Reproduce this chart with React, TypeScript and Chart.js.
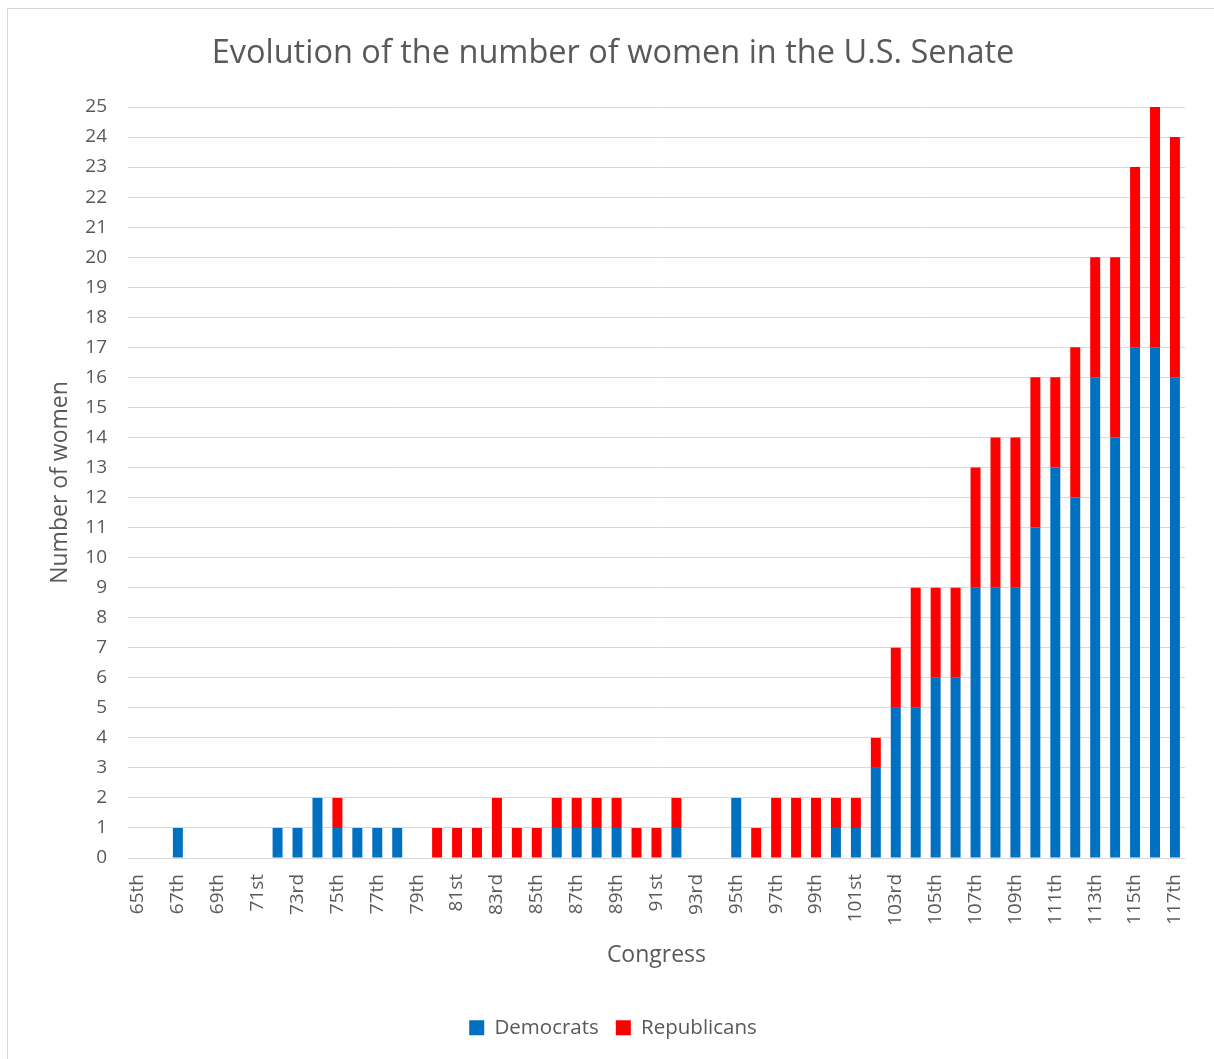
import React, { useEffect, useRef } from "react";
import { Chart, registerables } from "chart.js";

Chart.register(...registerables);

const congresses = [
  "65th", "66th", "67th", "68th", "69th", "70th", "71st", "72nd", "73rd", "74th",
  "75th", "76th", "77th", "78th", "79th", "80th", "81st", "82nd", "83rd", "84th",
  "85th", "86th", "87th", "88th", "89th", "90th", "91st", "92nd", "93rd", "94th",
  "95th", "96th", "97th", "98th", "99th", "100th", "101st", "102nd", "103rd", "104th",
  "105th", "106th", "107th", "108th", "109th", "110th", "111th", "112th", "113th", "114th",
  "115th", "116th", "117th",
];

const democrats = [
  0, 0, 1, 0, 0, 0, 0, 1, 1, 2,
  1, 1, 1, 1, 0, 0, 0, 0, 0, 0,
  0, 1, 1, 1, 1, 0, 0, 1, 0, 0,
  2, 0, 0, 0, 0, 1, 1, 3, 5, 5,
  6, 6, 9, 9, 9, 11, 13, 12, 16, 14,
  17, 17, 16,
];

const republicans = [
  0, 0, 0, 0, 0, 0, 0, 0, 0, 0,
  1, 0, 0, 0, 0, 1, 1, 1, 2, 1,
  1, 1, 1, 1, 1, 1, 1, 1, 0, 0,
  0, 1, 2, 2, 2, 1, 1, 1, 2, 4,
  3, 3, 4, 5, 5, 5, 3, 5, 4, 6,
  6, 8, 8,
];

const seriesNames = ["Democrats", "Republicans"];
const titleText = "Evolution of the number of women in the U.S. Senate";
const yAxisTitle = "Number of women";
const xAxisTitle = "Congress";

const FONT = "'Open Sans', 'Noto Sans', sans-serif";
const TEXT = "#595959";

export default function App() {
  const ref = useRef<HTMLCanvasElement | null>(null);

  useEffect(() => {
    if (!ref.current) return;
    const chart = new Chart(ref.current, {
      type: "bar",
      data: {
        labels: congresses,
        datasets: [
          {
            label: seriesNames[0],
            data: democrats,
            backgroundColor: "#0070C0",
            borderWidth: 0,
            barPercentage: 0.5,
            categoryPercentage: 1,
          },
          {
            label: seriesNames[1],
            data: republicans,
            backgroundColor: "#FF0000",
            borderWidth: 0,
            barPercentage: 0.5,
            categoryPercentage: 1,
          },
        ],
      },
      options: {
        animation: false,
        responsive: false,
        maintainAspectRatio: false,
        layout: { padding: { left: 30, right: 26, top: 0, bottom: 11 } },
        plugins: {
          title: {
            display: true,
            text: titleText,
            color: TEXT,
            font: { family: FONT, size: 32.5, weight: "normal" },
            padding: { top: 25, bottom: 34 },
          },
          legend: {
            position: "bottom",
            labels: {
              color: TEXT,
              font: { family: FONT, size: 20.5 },
              boxWidth: 15,
              boxHeight: 15,
              padding: 17,
            },
          },
          tooltip: { enabled: false },
        },
        scales: {
          x: {
            stacked: true,
            grid: { display: false, drawTicks: false },
            border: { display: true, color: "#d9d9d9", width: 1 },
            ticks: {
              autoSkip: false,
              minRotation: 90,
              maxRotation: 90,
              padding: 16,
              color: TEXT,
              font: { family: FONT, size: 19 },
              callback: (_v: any, i: number) => (i % 2 === 0 ? congresses[i] : ""),
            },
            title: {
              display: true,
              text: xAxisTitle,
              color: TEXT,
              font: { family: FONT, size: 23 },
              padding: { top: 4, bottom: 31 },
            },
            afterFit: (s: any) => {
              s.height = 142.5;
            },
          },
          y: {
            stacked: true,
            min: 0,
            max: 25,
            grid: { color: "#d9d9d9", lineWidth: 1, drawTicks: false },
            border: { display: false },
            ticks: {
              stepSize: 1,
              padding: 21,
              color: TEXT,
              font: { family: FONT, size: 19 },
            },
            title: {
              display: true,
              text: yAxisTitle,
              color: TEXT,
              font: { family: FONT, size: 23 },
              padding: { top: 9, bottom: 4 },
            },
            afterFit: (s: any) => {
              s.width = 90;
            },
          },
        },
      },
    });
    return () => chart.destroy();
  }, []);

  return (
    <div
      style={{
        position: "fixed",
        left: 0,
        top: 0,
        width: 1214,
        height: 1059,
        overflow: "hidden",
        background: "#ffffff",
      }}
    >
      <div
        style={{
          position: "absolute",
          left: 7,
          top: 8,
          width: 1207,
          height: 1051,
          borderLeft: "1px solid #d9d9d9",
          borderTop: "1px solid #d9d9d9",
        }}
      >
        <canvas ref={ref} width={1206} height={1050} style={{ display: "block" }} />
      </div>
    </div>
  );
}
